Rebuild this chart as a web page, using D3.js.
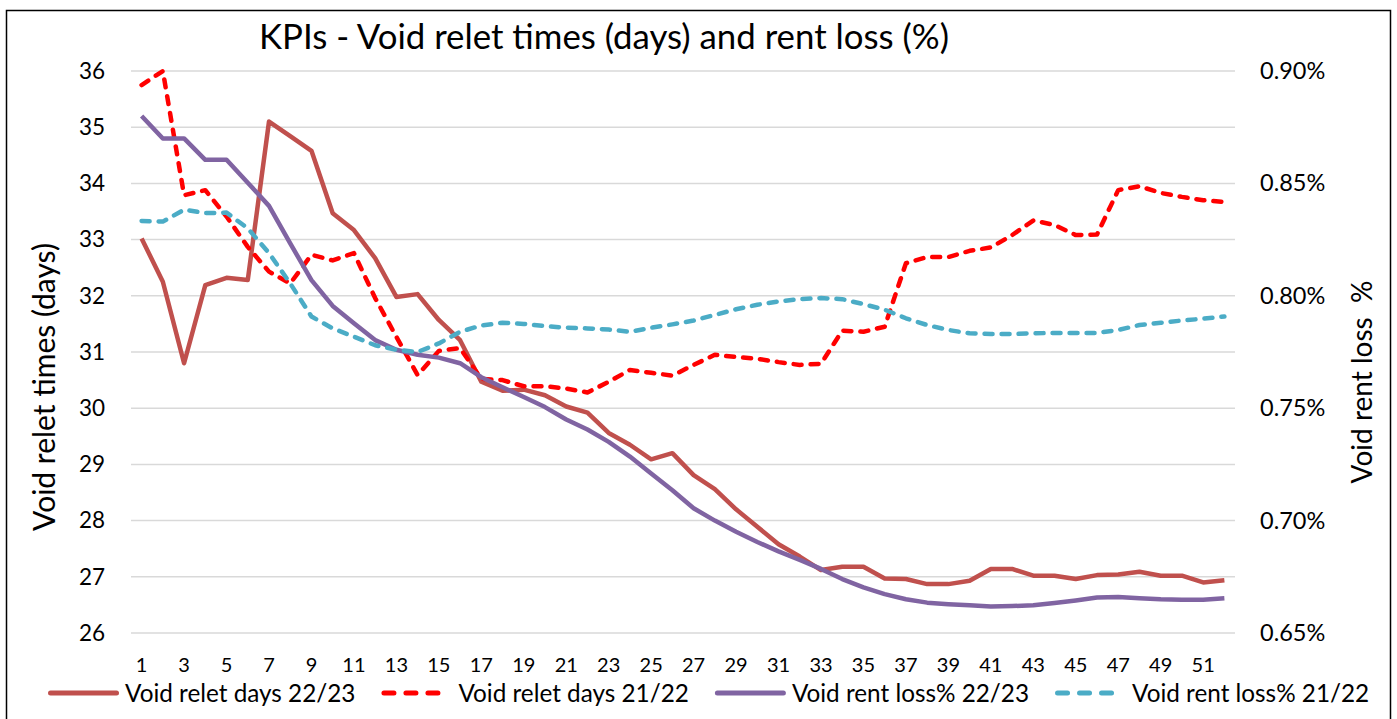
<!DOCTYPE html>
<html>
<head>
<meta charset="utf-8">
<script src="https://cdn.jsdelivr.net/npm/d3@7"></script>
<style>
  body { margin: 0; background: #fff; }
  svg text { font-family: Lato, "Open Sans", sans-serif; fill: #000; }
</style>
</head>
<body>
<svg id="chart" width="1397" height="719"></svg>
<script>
// weeks 1..52
const weeks = d3.range(1, 53)

const releteDays2223 = [33.02, 32.25, 30.8, 32.19, 32.32, 32.28, 35.1, 34.84, 34.58, 33.47, 33.17, 32.67, 31.98, 32.03, 31.57, 31.21, 30.47, 30.31, 30.33, 30.23, 30.03, 29.92, 29.56, 29.35, 29.09, 29.2, 28.81, 28.56, 28.2, 27.89, 27.58, 27.36, 27.12, 27.18, 27.18, 26.97, 26.96, 26.87, 26.87, 26.93, 27.14, 27.14, 27.02, 27.02, 26.96, 27.03, 27.04, 27.09, 27.02, 27.02, 26.9, 26.94]

const releteDays2122 = [35.75, 36.0, 33.79, 33.88, 33.41, 32.87, 32.43, 32.22, 32.73, 32.63, 32.76, 31.96, 31.27, 30.59, 31.02, 31.07, 30.52, 30.5, 30.39, 30.39, 30.35, 30.28, 30.47, 30.68, 30.63, 30.58, 30.77, 30.95, 30.91, 30.88, 30.82, 30.77, 30.79, 31.38, 31.36, 31.45, 32.58, 32.69, 32.69, 32.8, 32.86, 33.08, 33.34, 33.26, 33.08, 33.09, 33.88, 33.95, 33.83, 33.76, 33.7, 33.67]

// rent loss in percent
const rentLoss2223 = [0.880, 0.870, 0.870, 0.8605, 0.8605, 0.8503, 0.840, 0.8233, 0.807, 0.7955, 0.7878, 0.7803, 0.776, 0.7738, 0.7725, 0.770, 0.7638, 0.7593, 0.755, 0.7505, 0.745, 0.7405, 0.735, 0.7285, 0.721, 0.7135, 0.7055, 0.700, 0.695, 0.6905, 0.6863, 0.6825, 0.6785, 0.674, 0.6703, 0.6673, 0.665, 0.6635, 0.6628, 0.6623, 0.6618, 0.662, 0.6623, 0.6633, 0.6645, 0.6658, 0.666, 0.6655, 0.665, 0.6648, 0.6648, 0.6655]

const rentLoss2122 = [0.8333, 0.833, 0.8383, 0.8368, 0.837, 0.830, 0.819, 0.8055, 0.7908, 0.7855, 0.7818, 0.778, 0.776, 0.775, 0.7788, 0.784, 0.7868, 0.788, 0.7875, 0.7865, 0.7858, 0.7855, 0.785, 0.784, 0.7858, 0.7873, 0.789, 0.7915, 0.794, 0.796, 0.7975, 0.7985, 0.799, 0.7985, 0.7963, 0.7938, 0.790, 0.787, 0.7848, 0.7833, 0.783, 0.783, 0.7833, 0.7835, 0.7835, 0.7835, 0.7848, 0.787, 0.788, 0.789, 0.7898, 0.7908]

const leftTicks = [26, 27, 28, 29, 30, 31, 32, 33, 34, 35, 36]
const rightTicks = [0.65, 0.70, 0.75, 0.80, 0.85, 0.90]

const series = [
  { name: "Void relet days 22/23", values: releteDays2223, axis: "left", color: "#C0504D", dash: null },
  { name: "Void relet days 21/22", values: releteDays2122, axis: "left", color: "#FF0000", dash: "8,9" },
  { name: "Void rent loss% 22/23", values: rentLoss2223, axis: "right", color: "#8064A2", dash: null },
  { name: "Void rent loss% 21/22", values: rentLoss2122, axis: "right", color: "#4BACC6", dash: "8,9" },
]

const svg = d3.select("#chart")
const plot = { left: 131, right: 1235, top: 71, bottom: 633 }

// outer frame
svg.append("rect")
  .attr("x", 6.5).attr("y", 10.5)
  .attr("width", 1384).attr("height", 720)
  .attr("fill", "none").attr("stroke", "#000").attr("stroke-width", 1.5)

const x = d3.scaleBand().domain(weeks).range([plot.left, plot.right])
const xc = d => x(d) + x.bandwidth() / 2
const yL = d3.scaleLinear().domain([26, 36]).range([plot.bottom, plot.top])
const yR = d3.scaleLinear().domain([0.65, 0.90]).range([plot.bottom, plot.top])

// gridlines
svg.append("g")
  .selectAll("line")
  .data(leftTicks)
  .join("line")
  .attr("x1", plot.left).attr("x2", plot.right)
  .attr("y1", d => yL(d)).attr("y2", d => yL(d))
  .attr("stroke", "#D9D9D9").attr("stroke-width", 1.5)

// left axis
const gL = svg.append("g")
  .attr("transform", `translate(${plot.left - 26},0)`)
  .call(d3.axisLeft(yL).tickValues(leftTicks).tickSize(0).tickPadding(0))
gL.select(".domain").remove()
gL.selectAll("text").style("font-size", "22.5px").attr("font-family", null)

// right axis
const gR = svg.append("g")
  .attr("transform", `translate(${plot.right + 25},0)`)
  .call(d3.axisRight(yR).tickValues(rightTicks).tickSize(0).tickPadding(0)
    .tickFormat(d => d3.format(".2f")(d) + "%"))
gR.select(".domain").remove()
gR.selectAll("text").style("font-size", "23.5px").attr("font-family", null)

// bottom axis
const gX = svg.append("g")
  .attr("transform", `translate(0,${plot.bottom})`)
  .call(d3.axisBottom(x).tickValues(weeks.filter(w => w % 2 === 1)).tickSize(0).tickPadding(25))
gX.select(".domain").remove()
gX.selectAll("text").style("font-size", "20px").attr("font-family", null)

// lines
const line = s => d3.line()
  .x((d, i) => xc(weeks[i]))
  .y(d => (s.axis === "left" ? yL(d) : yR(d)))

svg.append("g")
  .selectAll("path")
  .data(series)
  .join("path")
  .attr("d", s => line(s)(s.values))
  .attr("fill", "none")
  .attr("stroke", s => s.color)
  .attr("stroke-width", 4.5)
  .attr("stroke-linejoin", "round")
  .attr("stroke-linecap", s => s.dash ? "round" : "butt")
  .attr("stroke-dasharray", s => s.dash)

// title
svg.append("text")
  .attr("x", 604).attr("y", 49)
  .attr("text-anchor", "middle")
  .style("font-size", "34.8px")
  .text("KPIs - Void relet times (days) and rent loss (%)")

// axis titles
svg.append("text")
  .attr("transform", "translate(55,387) rotate(-90)")
  .attr("text-anchor", "middle")
  .style("font-size", "30px")
  .text("Void relet times (days)")

svg.append("text")
  .attr("transform", "translate(1372,382) rotate(-90)")
  .attr("text-anchor", "middle")
  .style("font-size", "28px")
  .style("white-space", "pre")
  .text("Void rent loss  %")

// legend
const legend = svg.append("g").attr("transform", "translate(0,693)")
let lx = 48
series.forEach(s => {
  legend.append("line")
    .attr("x1", lx + 2.5).attr("x2", s.dash ? lx + 57 : lx + 68.5)
    .attr("y1", 0).attr("y2", 0)
    .attr("stroke", s.color).attr("stroke-width", 5)
    .attr("stroke-linecap", "round")
    .attr("stroke-dasharray", s.dash ? "10,12" : null)
  const t = legend.append("text")
    .attr("x", lx + 77).attr("y", 8.5)
    .style("font-size", "24.3px")
    .text(s.name)
  lx += 77 + t.node().getComputedTextLength() + 26
})
</script>
</body>
</html>
